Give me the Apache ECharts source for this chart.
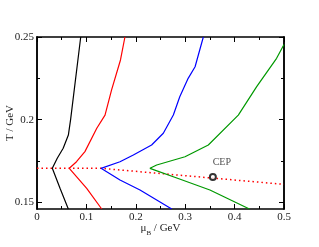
<!DOCTYPE html>
<html>
<head>
<meta charset="utf-8">
<script src="https://cdn.jsdelivr.net/npm/echarts@6/dist/echarts.min.js"></script>
<style>html,body{margin:0;padding:0;background:#fff}#c{width:319px;height:247px}</style>
</head>
<body>
<div id="c"></div>
<script>
// Data: [muB (GeV), T (GeV)]
var curveBlack = [[0.0634,0.146],[0.0466,0.1585],[0.031,0.1706],[0.041,0.1767],[0.053,0.1827],[0.0635,0.1907],[0.068,0.2],[0.0885,0.25]];
var curveRed = [[0.131,0.146],[0.1006,0.1585],[0.0654,0.1706],[0.080,0.1746],[0.097,0.1807],[0.121,0.1948],[0.1377,0.2028],[0.151,0.218],[0.169,0.2361],[0.178,0.25]];
var curveBlue = [[0.2727,0.146],[0.2085,0.1575],[0.168,0.1635],[0.1296,0.1706],[0.168,0.1746],[0.195,0.1787],[0.232,0.1847],[0.2557,0.1918],[0.276,0.2028],[0.289,0.2139],[0.306,0.225],[0.32,0.232],[0.3367,0.25]];
var curveGreen = [[0.43,0.146],[0.35,0.1575],[0.29,0.164],[0.2287,0.1706],[0.2423,0.1726],[0.2996,0.1776],[0.3468,0.1847],[0.4075,0.2028],[0.4447,0.22],[0.485,0.2371],[0.5,0.2455]];
var crossoverLine = [[0,0.1706],[0.13,0.1706],[0.5,0.1609]];
var cepPoint = [[0.356,0.1654]];
var yMajorTicks = [0.15,0.2,0.25];
var yMinorTicks = [0.175,0.225];

var FONT = "'Liberation Serif','DejaVu Serif',serif";
var axisLine = {show:true, onZero:false, lineStyle:{color:'#000', width:1.5}};
function yAx(pos, ticks, len, labels, name) {
  return {
    type:'value', position:pos, min:0.146, max:0.25, gridIndex:0,
    name: name || '', nameLocation:'middle', nameGap:21, nameRotate:90, nameMoveOverlap:false,
    nameTextStyle:{fontFamily:FONT, fontSize:11, color:'#222'},
    axisLine:axisLine, splitLine:{show:false},
    axisTick:{show:true, inside:true, length:len, customValues:ticks, lineStyle:{color:'#000', width:1}},
    axisLabel:{show:labels, customValues:ticks, fontFamily:FONT, fontSize:11, color:'#222', margin:3}
  };
}
var chart = echarts.init(document.getElementById('c'));
chart.setOption({
  backgroundColor:'#fff',
  animation:false,
  grid:{left:37, right:35, top:37, bottom:38, containLabel:false, outerBoundsMode:'none'},
  xAxis:[
    {type:'value', position:'bottom', min:0, max:0.5, interval:0.1,
     name:'{a|μ}{b|B}{a| / GeV}', nameLocation:'middle', nameGap:14, nameMoveOverlap:false,
     nameTextStyle:{fontFamily:FONT, fontSize:11, color:'#222', rich:{
       a:{fontFamily:FONT, fontSize:11, color:'#222', lineHeight:14, verticalAlign:'top'},
       b:{fontFamily:FONT, fontSize:7, color:'#222', lineHeight:14, verticalAlign:'bottom', padding:[5,0,0,0]}}},
     axisLine:axisLine, splitLine:{show:false},
     axisTick:{inside:true, length:5, lineStyle:{color:'#000', width:1}},
     minorTick:{show:true, splitNumber:2, length:3, lineStyle:{color:'#000', width:1}},
     axisLabel:{fontFamily:FONT, fontSize:11, color:'#222', margin:3}},
    {type:'value', position:'top', min:0, max:0.5, interval:0.1,
     axisLine:axisLine, splitLine:{show:false},
     axisTick:{inside:true, length:5, lineStyle:{color:'#000', width:1}},
     minorTick:{show:true, splitNumber:2, length:3, lineStyle:{color:'#000', width:1}},
     axisLabel:{show:false}}
  ],
  yAxis:[
    yAx('left', yMajorTicks, 5, true, 'T / GeV'),
    yAx('left', yMinorTicks, 3, false),
    yAx('right', yMajorTicks, 5, false),
    yAx('right', yMinorTicks, 3, false)
  ],
  series:[
    {type:'line', data:crossoverLine, showSymbol:false, lineStyle:{color:'#ff0000', width:1.5, type:[1.5,3]}, z:1},
    {type:'line', data:curveBlack, showSymbol:false, lineStyle:{color:'#000000', width:1.2}},
    {type:'line', data:curveRed, showSymbol:false, lineStyle:{color:'#ff0000', width:1.2}},
    {type:'line', data:curveBlue, showSymbol:false, lineStyle:{color:'#0000ff', width:1.2}},
    {type:'line', data:curveGreen, showSymbol:false, lineStyle:{color:'#009900', width:1.2}},
    {type:'scatter', data:cepPoint, symbol:'circle', symbolSize:6,
     itemStyle:{color:'#fff', borderColor:'#000', borderWidth:2}, z:5,
     label:{show:true, formatter:'CEP', position:'top', distance:0, offset:[9,-6], fontFamily:FONT, fontSize:10, color:'#222'}}
  ]
});
</script>
</body>
</html>
